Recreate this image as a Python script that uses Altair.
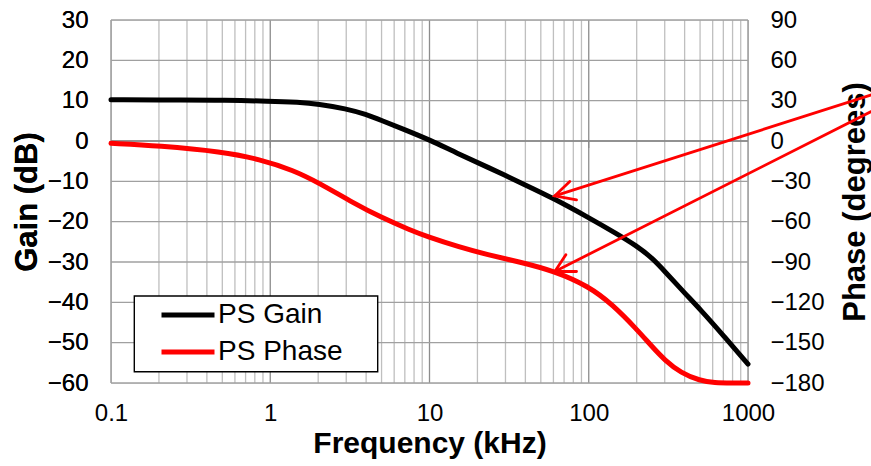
import altair as alt
import pandas as pd

# ---------------- data ----------------
freq_gain = [0.1, 0.3, 0.5, 1, 1.5, 2, 3, 4, 5, 7, 10, 15, 23, 40, 60, 100, 150, 200, 250, 300, 400,
             500, 700, 1000]
gain_db = [10.2, 10.2, 10.1, 9.9, 9.6, 9.2, 8.0, 6.6, 5.1, 2.8, 0.3, -3.1, -6.4, -10.9, -14.2, -19.0,
           -23.0, -26.0, -29.0, -32.3, -37.7, -41.7, -48.2, -55.3]

freq_phase = [0.1, 0.2, 0.5, 0.86, 1.39, 2.05, 3.3, 5.1, 7.5, 9.6, 15.5, 23, 37, 60, 100, 142, 200, 250,
              300, 379, 500, 614, 800, 1000]
phase_deg = [-1.7, -3.5, -8.0, -13.6, -21.6, -31.5, -45.9, -57.5, -66.0, -71.0, -79.0, -84.5, -90.0,
             -96.5, -108.0, -122.0, -140.0, -153.0, -163.0, -172.5, -178.3, -179.8, -180.0, -180.0]

series_names = ["PS Gain", "PS Phase"]

# annotation arrows (frequency kHz, gain dB)
arrow_part = ["s1", "s1", "h1", "h1", "h1", "s2", "s2", "h2", "h2", "h2"]
arrow_f = [6739, 61.2, 76.0, 61.2, 83.8, 6739, 61.2, 71.8, 61.2, 83.8]
arrow_db = [12.1, -13.6, -10.05, -13.6, -14.6, 8.4, -32.35, -28.2, -32.35, -32.35]

major_ticks = [0.1, 1, 10, 100, 1000]
minor_ticks = [0.2, 0.3, 0.4, 0.5, 0.6, 0.7, 0.8, 0.9,
               2, 3, 4, 5, 6, 7, 8, 9,
               20, 30, 40, 50, 60, 70, 80, 90,
               200, 300, 400, 500, 600, 700, 800, 900]
gain_ticks = [-60, -50, -40, -30, -20, -10, 0, 10, 20, 30]
phase_ticks = [-180, -150, -120, -90, -60, -30, 0, 30, 60, 90]
axis_cross = [0]
axis_tick_freqs = [1, 10, 100]

# ---------------- chart ----------------
FONT = "Liberation Sans"
W, H = 637, 363

xscale = alt.Scale(type="log", domain=[0.1, 1000], nice=False)
gscale = alt.Scale(domain=[-60, 30], nice=False, zero=False)
pscale = alt.Scale(domain=[-180, 90], nice=False, zero=False)

x_axis = alt.Axis(values=major_ticks, format="~g", grid=False, domain=False, ticks=False, tickSize=0,
                  labelFont=FONT, labelFontSize=24, labelColor="black", labelPadding=18,
                  labelFlush=False, labelOverlap=False,
                  title="Frequency (kHz)", titleFont=FONT, titleFontSize=30, titleFontWeight="bold",
                  titleColor="black", titleBaseline="alphabetic", titleX=W / 2, titleY=69)
g_axis = alt.Axis(values=gain_ticks, grid=False, domain=False, ticks=False, tickSize=0,
                  labelFont=FONT, labelFontSize=24, labelColor="black", labelPadding=23,
                  title="Gain (dB)", titleFont=FONT, titleFontSize=31, titleFontWeight="bold",
                  titleColor="black", titleAngle=270, titleBaseline="alphabetic",
                  titleX=-75, titleY=H / 2)
p_axis = alt.Axis(orient="right", values=phase_ticks, grid=False, domain=False, ticks=False, tickSize=0,
                  labelFont=FONT, labelFontSize=24, labelColor="black", labelPadding=22,
                  title="Phase (degrees)", titleFont=FONT, titleFontSize=31, titleFontWeight="bold",
                  titleColor="black", titleAngle=270, titleBaseline="alphabetic",
                  titleX=116, titleY=H / 2)

X = lambda: alt.X("f:Q", scale=xscale, axis=x_axis)
YG = lambda field="v": alt.Y(f"{field}:Q", scale=gscale, axis=g_axis)

legend = alt.Legend(orient="none", legendX=48, legendY=281, title=None, symbolType="stroke",
                    symbolStrokeWidth=5, symbolSize=2809, clipHeight=28, rowPadding=9, padding=0,
                    labelFont=FONT, labelFontSize=28, labelColor="black", labelOffset=1)
color = alt.Color("series:N", scale=alt.Scale(domain=series_names, range=["#000000", "#FF0000"]),
                  legend=legend)

gain_df = pd.DataFrame({"f": freq_gain, "v": gain_db, "series": series_names[0]})
phase_df = pd.DataFrame({"f": freq_phase, "v": phase_deg, "series": series_names[1]})
arrow_df = pd.DataFrame({"f": arrow_f, "v": arrow_db, "part": arrow_part,
                         "i": list(range(len(arrow_f)))})

vminor = alt.Chart(pd.DataFrame({"f": minor_ticks})).mark_rule(
    color="#BFBFBF", strokeWidth=1.3).encode(x=X())
vmajor = alt.Chart(pd.DataFrame({"f": major_ticks})).mark_rule(
    color="#8C8C8C", strokeWidth=1.3).encode(x=X())
hgrid = alt.Chart(pd.DataFrame({"v": gain_ticks})).mark_rule(
    color="#A0A0A0", strokeWidth=1.3).encode(y=YG())
zero_line = alt.Chart(pd.DataFrame({"v": axis_cross})).mark_rule(
    color="#868686", strokeWidth=1.6).encode(y=YG())
dec_ticks = alt.Chart(pd.DataFrame({"f": axis_tick_freqs, "v": [0] * len(axis_tick_freqs)})).mark_tick(
    orient="vertical", size=7, thickness=1.4, color="#868686", yOffset=3.5).encode(x=X(), y=YG())
legend_box = alt.Chart(pd.DataFrame({"k": [0]})).mark_rect(
    fill="white", stroke="black", strokeWidth=1.4).encode(
    x=alt.value(23.3), x2=alt.value(266.7), y=alt.value(276), y2=alt.value(351.7))
gain_line = alt.Chart(gain_df).mark_line(
    strokeWidth=5, interpolate="basis", strokeCap="round").encode(x=X(), y=YG(), color=color)
arrows = alt.Chart(arrow_df).mark_line(
    color="#FF0000", strokeWidth=2.8, strokeCap="round", strokeJoin="miter").encode(
    x=X(), y=YG(), detail="part:N", order="i:Q")

phase_line = alt.Chart(phase_df).mark_line(
    strokeWidth=5, interpolate="basis", strokeCap="round").encode(
    x=X(), y=alt.Y("v:Q", scale=pscale, axis=p_axis), color=color)

gain_layer = alt.layer(vminor, vmajor, hgrid, zero_line, dec_ticks, legend_box, gain_line)
chart = alt.layer(gain_layer, phase_line, arrows).resolve_scale(y="independent").properties(
    width=W, height=H,
    autosize=alt.AutoSizeParams(type="none"),
    padding={"left": 111, "top": 20, "right": 123, "bottom": 83},
).configure_view(strokeWidth=0).configure(background="white")

chart.save("out.html", embed_options={"renderer": "svg", "actions": False})
